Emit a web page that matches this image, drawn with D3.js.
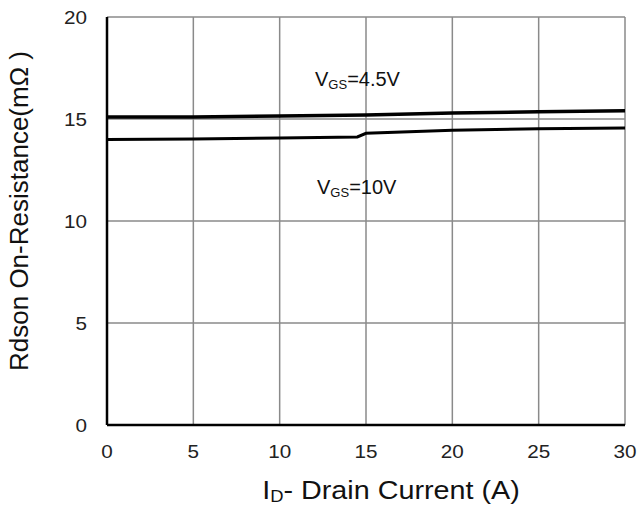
<!DOCTYPE html>
<html>
<head>
<meta charset="utf-8">
<script src="https://cdn.jsdelivr.net/npm/d3@7"></script>
<style>
  body { margin: 0; background: #fff; }
  svg { font-family: "Liberation Sans", Arial, sans-serif; }
</style>
</head>
<body>
<svg id="chart" width="641" height="506"></svg>
<script>
// Drain current (A) and on-resistance (mOhm)
const xTicks = [0, 5, 10, 15, 20, 25, 30];
const yTicks = [0, 5, 10, 15, 20];
const vgs45 = [[0, 15.1], [5, 15.1], [10, 15.15], [15, 15.2], [20, 15.3], [25, 15.35], [30, 15.4]];
const vgs10 = [[0, 14.0], [5, 14.02], [10, 14.07], [14.5, 14.12], [15, 14.3], [20, 14.45], [25, 14.52], [30, 14.56]];

const svg = d3.select('#chart');
const plotLeft = 107, plotRight = 625, plotTop = 17, plotBottom = 425;

const x = d3.scaleLinear().domain([0, 30]).range([plotLeft, plotRight]);
const y = d3.scaleLinear().domain([0, 20]).range([plotBottom, plotTop]);

// grid
svg.append('g')
  .selectAll('line')
  .data(xTicks.slice(1))
  .enter().append('line')
  .attr('x1', d => x(d)).attr('x2', d => x(d))
  .attr('y1', plotTop).attr('y2', plotBottom)
  .attr('stroke', '#8a8a8a').attr('stroke-width', 1.5);
svg.append('g')
  .selectAll('line')
  .data(yTicks.slice(1))
  .enter().append('line')
  .attr('x1', plotLeft).attr('x2', plotRight)
  .attr('y1', d => y(d)).attr('y2', d => y(d))
  .attr('stroke', '#8a8a8a').attr('stroke-width', 1.5);

// left and bottom axis lines
svg.append('line').attr('x1', plotLeft).attr('x2', plotLeft).attr('y1', plotTop).attr('y2', plotBottom)
  .attr('stroke', '#000').attr('stroke-width', 2.5);
svg.append('line').attr('x1', plotLeft).attr('x2', plotRight).attr('y1', plotBottom).attr('y2', plotBottom)
  .attr('stroke', '#000').attr('stroke-width', 2.5);

// tick labels
svg.append('g')
  .selectAll('text')
  .data(xTicks)
  .enter().append('text')
  .attr('x', d => x(d)).attr('y', 458)
  .attr('text-anchor', 'middle')
  .attr('font-size', 18).attr('fill', '#222')
  .attr('textLength', d => String(d).length * 11.5)
  .attr('lengthAdjust', 'spacingAndGlyphs')
  .text(d => d);
svg.append('g')
  .selectAll('text')
  .data(yTicks)
  .enter().append('text')
  .attr('x', 87).attr('y', d => y(d) + 7)
  .attr('text-anchor', 'end')
  .attr('font-size', 18).attr('fill', '#222')
  .attr('textLength', d => String(d).length * 11.5)
  .attr('lengthAdjust', 'spacingAndGlyphs')
  .text(d => d);

// curves
const line = d3.line().x(d => x(d[0])).y(d => y(d[1]));
svg.append('path').datum(vgs45).attr('d', line)
  .attr('fill', 'none').attr('stroke', '#000').attr('stroke-width', 3.5);
svg.append('path').datum(vgs10).attr('d', line)
  .attr('fill', 'none').attr('stroke', '#000').attr('stroke-width', 3);

// curve labels
const lab1 = svg.append('text').attr('x', 315).attr('y', 86).attr('font-size', 20).attr('fill', '#111');
lab1.append('tspan').text('V');
lab1.append('tspan').attr('font-size', 13).attr('dy', 3).text('GS');
lab1.append('tspan').attr('dy', -3).text('=4.5V');

const lab2 = svg.append('text').attr('x', 317).attr('y', 194).attr('font-size', 20).attr('fill', '#111');
lab2.append('tspan').text('V');
lab2.append('tspan').attr('font-size', 13).attr('dy', 3).text('GS');
lab2.append('tspan').attr('dy', -3).text('=10V');

// axis titles
const xt = svg.append('text').attr('transform', 'translate(391,499) scale(1.15,1)')
  .attr('text-anchor', 'middle')
  .attr('font-size', 25).attr('fill', '#111');
xt.append('tspan').text('I');
xt.append('tspan').attr('font-size', 16).attr('dy', 3).text('D');
xt.append('tspan').attr('dy', -3).text('- Drain Current (A)');

svg.append('text')
  .attr('transform', 'translate(28,' + 211 + ') rotate(-90)')
  .attr('text-anchor', 'middle')
  .attr('font-size', 26).attr('fill', '#111')
  .text('Rdson On-Resistance(m\u03A9 )');
</script>
</body>
</html>
